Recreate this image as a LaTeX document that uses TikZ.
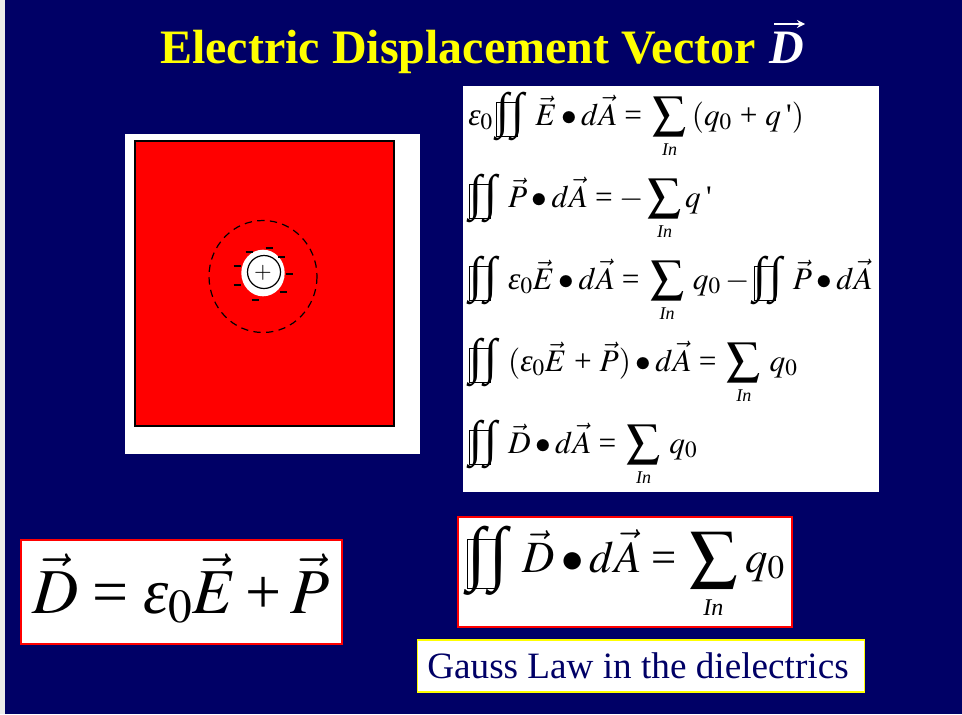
\documentclass[tikz,border=0pt]{standalone}
\usepackage{amsmath}
\usepackage{graphicx}
\usepackage{mathptmx}
\usepackage{fontspec}
\setmainfont{Liberation Serif}
\usetikzlibrary{calc,positioning,arrows.meta}

\definecolor{slidenavy}{RGB}{0,0,102}
\definecolor{slideyellow}{RGB}{255,255,0}

% closed surface integral, printed as two integrals over an empty box
\newcommand{\oneint}{\raisebox{-.09em}{\scalebox{1.5}[1.58]{\bfseries ∫}}}
\newcommand{\surfint}{\mbox{\rlap{\raisebox{-.36em}{\fboxsep=0pt\fboxrule=.5pt\fbox{\rule{0pt}{1.08em}\hspace{.64em}}}}\oneint\kern.08em\oneint}\hspace{.34em}}
\newcommand{\sumin}[1]{\mathop{\scalebox{1.06}[1.02]{$\displaystyle\sum$}}\limits_{\mbox{\fontsize{#1}{#1}\selectfont\rule{0pt}{.7em}\itshape In}}}
\newcommand{\linesum}{\mkern2mu\sumin{13.5}\mkern3mu}
\newcommand{\dotp}{\mathbin{\bullet}}
\newcommand{\eps}{\mbox{\itshape ε}}
\newcommand{\eqsign}{\mathrel{\mbox{=}}}
\newcommand{\plussign}{\mathbin{\mbox{+}}}
\newcommand{\prm}{\mbox{\,\textquotesingle}}

\tikzset{
    panel/.style={fill=white, draw=none},
    redpanel/.style={fill=white, draw=red, line width=0.8pt},
    eqn/.style={anchor=base west, inner sep=0pt, font=\fontsize{23.5}{26}\selectfont},
    minus/.style={line width=0.9pt, black},
}

\begin{document}
\begin{tikzpicture}[x=0.75pt, y=-0.75pt]
    \useasboundingbox (0,0) rectangle (962,714);
    \fill[slidenavy] (0,0) rectangle (962,714);
    \fill[gray!15] (0,0) rectangle (5,714);

    \node[anchor=base west, inner sep=0pt, text=slideyellow, font=\fontsize{36}{40}\selectfont\bfseries] (title) at (160,63) {Electric Displacement Vector};
    \node[anchor=base west, inner sep=0pt, text=white, font=\fontsize{36}{40}\selectfont\bfseries\itshape] (titlevec) at (769,63) {D};
    \draw[white, line width=1pt, -{Stealth[length=6pt,width=6pt]}] (774,24) -- (805,24);

    % the dielectric with the charge in its cavity
    \fill[panel] (125,134) rectangle (420,454);
    \draw[fill=red, line width=0.8pt] (135,141) rectangle (394,426);
    \draw[line width=0.9pt, dash pattern=on 5.5pt off 4pt] (263,276.5) ellipse (54 and 56);
    \fill[white] (263,273) ellipse (21.7 and 23.3);
    \draw[line width=0.9pt] (264,272) circle (16.5);
    \node[inner sep=0pt, font=\fontsize{17}{17}\selectfont] (charge) at (263,272.5) {$+$};
    \foreach \mx/\my in {237/266, 237/285, 249/252, 269/248, 281/257, 289/274, 283/292, 255/300}
        \draw[minus] (\mx-3.5,\my) -- (\mx+3.5,\my);

    % the derivation
    \fill[panel] (463,86) rectangle (879,492);
    \node[eqn] (line1) at (468,125) {$\eps_0\,\surfint\vec{E}\dotp d\vec{A}\eqsign\linesum(q_0\,\plussign\,q\prm)$};
    \node[eqn] (line2) at (469,207) {$\surfint\vec{P}\dotp d\vec{A}\eqsign-\sumin{13.5}q\prm$};
    \node[eqn] (line3) at (469,289) {$\surfint\eps_0\vec{E}\dotp d\vec{A}\eqsign\linesum q_0-\surfint\vec{P}\dotp d\vec{A}$};
    \node[eqn] (line4) at (469,371) {$\surfint(\eps_0\vec{E}\,\plussign\,\vec{P})\dotp d\vec{A}\eqsign\linesum q_0$};
    \node[eqn] (line5) at (469,453) {$\surfint\vec{D}\dotp d\vec{A}\eqsign\linesum q_0$};

    % the results
    \draw[redpanel] (21,540) rectangle (342,644);
    \node[eqn, font=\fontsize{48}{52}\selectfont] (dfield) at (32,613) {$\vec{D}\eqsign\eps_0\vec{E}\plussign\vec{P}$};
    \draw[redpanel] (458,517) rectangle (792,627);
    \node[eqn, font=\fontsize{33.5}{38}\selectfont] (gauss) at (467,572) {$\surfint\vec{D}\dotp d\vec{A}\eqsign\mkern1mu\sumin{18}\mkern1mu q_0$};
    \node[draw=slideyellow, line width=0.8pt, fill=white, minimum width=447*0.75pt, minimum height=52*0.75pt, inner sep=0pt] (lawbox) at (641,666) {};
    \node[anchor=base west, inner sep=0pt, text=slidenavy, font=\fontsize{27.9}{30}\selectfont] (lawlabel) at (427,678) {Gauss Law in the dielectrics};
\end{tikzpicture}
\end{document}
